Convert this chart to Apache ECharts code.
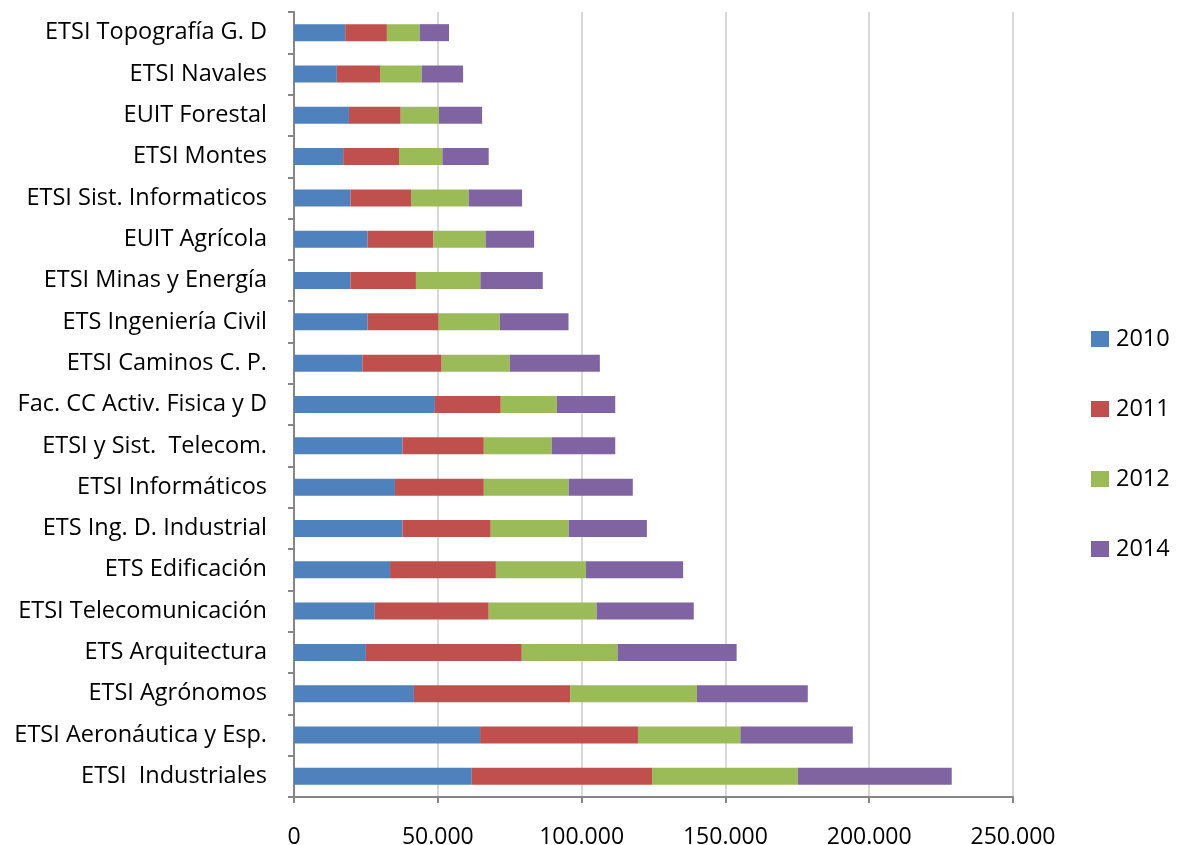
<!DOCTYPE html>
<html>
<head>
<meta charset="utf-8">
<script src="https://cdn.jsdelivr.net/npm/echarts@6/dist/echarts.min.js"></script>
<style>
html,body{margin:0;padding:0;background:#fff;}
#chart{width:1183px;height:845px;}
</style>
</head>
<body>
<div id="chart"></div>
<script>
// categories listed bottom to top
const categories = [
  "ETSI  Industriales",
  "ETSI Aeronáutica y Esp.",
  "ETSI Agrónomos",
  "ETS Arquitectura",
  "ETSI Telecomunicación",
  "ETS Edificación",
  "ETS Ing. D. Industrial",
  "ETSI Informáticos",
  "ETSI y Sist.  Telecom.",
  "Fac. CC Activ. Fisica y D",
  "ETSI Caminos C. P.",
  "ETS Ingeniería Civil",
  "ETSI Minas y Energía",
  "EUIT Agrícola",
  "ETSI Sist. Informaticos",
  "ETSI Montes",
  "EUIT Forestal",
  "ETSI Navales",
  "ETSI Topografía G. D"
];
const seriesNames = ["2010", "2011", "2012", "2014"];
const v2010 = [61800, 64700, 41700, 25000, 28100, 33400, 37700, 35100, 37700, 49000, 23750, 25600, 19600, 25600, 19600, 17100, 19100, 14900, 17800];
const v2011 = [62700, 54900, 54300, 54200, 39600, 36800, 30700, 30900, 28300, 22900, 27600, 24700, 22800, 22900, 21100, 19400, 18000, 15000, 14500];
const v2012 = [50700, 35600, 44100, 33300, 37500, 31300, 27100, 29500, 23600, 19500, 23700, 21250, 22400, 18100, 20000, 15100, 13300, 14500, 11400];
const v2014 = [53500, 39100, 38550, 41400, 33800, 33800, 27200, 22300, 22100, 20300, 31300, 23900, 21700, 16900, 18600, 16100, 15000, 14400, 10200];
const xTicks = { min: 0, max: 250000, interval: 50000 };
const colors = ["#4F81BD", "#C0504D", "#9BBB59", "#8064A2"];

const values = [v2010, v2011, v2012, v2014];
const FONT = "Open Sans";
const chart = echarts.init(document.getElementById('chart'), null, {renderer: 'canvas'});
function fmt(v){
  return String(v).replace(/\B(?=(\d{3})+(?!\d))/g, ".");
}
chart.setOption({
  animation: false,
  backgroundColor: '#ffffff',
  color: colors,
  textStyle: { fontFamily: FONT },
  grid: { left: 294, right: 170, top: 12, bottom: 48, containLabel: false, outerBoundsMode: 'none' },
  legend: {
    orient: 'vertical',
    left: 1086,
    top: 322,
    itemWidth: 18,
    itemHeight: 16,
    itemGap: 46,
    icon: 'rect',
    data: seriesNames,
    textStyle: { fontFamily: FONT, fontSize: 23.5, color: '#000', lineHeight: 24, padding: [0, 0, 0, 2] }
  },
  xAxis: {
    type: 'value',
    min: xTicks.min, max: xTicks.max, interval: xTicks.interval,
    axisLine: { show: true, lineStyle: { color: '#868686', width: 2 } },
    axisTick: { show: true, length: 6, lineStyle: { color: '#868686', width: 2 } },
    axisLabel: { fontFamily: FONT, fontSize: 23, color: '#000', margin: 29, formatter: fmt },
    splitLine: { show: true, lineStyle: { color: '#D9D9D9', width: 2 } }
  },
  yAxis: {
    type: 'category',
    data: categories,
    axisLine: { show: true, lineStyle: { color: '#868686', width: 2 } },
    axisTick: { show: true, length: 6, lineStyle: { color: '#868686', width: 2 } },
    axisLabel: { fontFamily: FONT, fontSize: 23.5, color: '#000', margin: 27, padding: [8, 0, 0, 0] },
    splitLine: { show: false }
  },
  series: seriesNames.map((n, i) => ({
    name: n,
    type: 'bar',
    stack: 'total',
    barWidth: 17,
    data: values[i],
    itemStyle: { color: colors[i] }
  }))
});
</script>
</body>
</html>
